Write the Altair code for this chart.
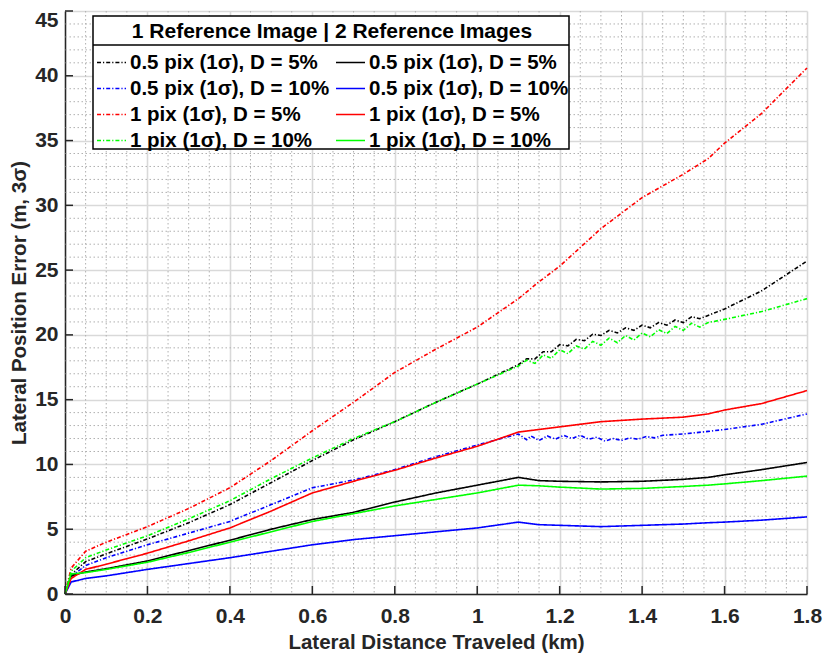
import altair as alt
import pandas as pd
import numpy as np

# ---------------- data ----------------
dist_km = [0, 0.015, 0.05, 0.1, 0.2, 0.3, 0.4, 0.5, 0.6, 0.7, 0.8, 0.9, 1.0,
           1.1, 1.15, 1.2, 1.3, 1.4, 1.5, 1.56, 1.6, 1.69, 1.8]

# 1 reference image (dash-dot) -- these three show a ripple after 1.1 km
one_ref_05pix_d5_x = [0, 0.015, 0.05, 0.1, 0.2, 0.3, 0.4, 0.5, 0.6, 0.7, 0.8, 0.9, 1.0, 1.1,
                      1.12, 1.14, 1.16, 1.18, 1.20, 1.22, 1.24, 1.26, 1.28, 1.30, 1.32, 1.34,
                      1.36, 1.38, 1.40, 1.42, 1.44, 1.46, 1.48, 1.50, 1.52, 1.54, 1.56,
                      1.6, 1.69, 1.8]
one_ref_05pix_d5 = [0, 1.5, 2.5, 3.1, 4.25, 5.5, 6.9, 8.6, 10.3, 11.9, 13.3, 14.8, 16.2, 17.7,
                    18.15, 18.15, 18.7, 18.7, 19.25, 19.15, 19.65, 19.55, 20.05, 19.95, 20.35, 20.15,
                    20.55, 20.35, 20.75, 20.55, 20.95, 20.75, 21.15, 20.95, 21.4, 21.25, 21.5,
                    22.0, 23.4, 25.7]

one_ref_05pix_d10_x = [0, 0.015, 0.05, 0.1, 0.2, 0.3, 0.4, 0.5, 0.6, 0.7, 0.8, 0.9, 1.0, 1.1,
                       1.12, 1.13, 1.15, 1.17, 1.19, 1.21, 1.23, 1.25, 1.27, 1.29, 1.31, 1.33,
                       1.35, 1.37, 1.39, 1.41, 1.43, 1.45, 1.5, 1.56, 1.6, 1.69, 1.8]
one_ref_05pix_d10 = [0, 1.35, 2.2, 2.8, 3.8, 4.7, 5.6, 6.9, 8.2, 8.8, 9.6, 10.6, 11.5, 12.35,
                     11.9, 12.2, 11.85, 12.2, 11.95, 12.25, 12.0, 12.25, 11.95, 12.1, 11.8, 12.0,
                     11.85, 12.05, 11.95, 12.15, 12.05, 12.25, 12.35, 12.55, 12.7, 13.1, 13.9]

one_ref_1pix_d5 = [0, 2.0, 3.3, 4.0, 5.2, 6.6, 8.2, 10.3, 12.6, 14.8, 17.1, 18.9, 20.6,
                   22.8, 24.1, 25.3, 28.2, 30.6, 32.4, 33.6, 34.8, 37.1, 40.6]

one_ref_1pix_d10_x = [0, 0.015, 0.05, 0.1, 0.2, 0.3, 0.4, 0.5, 0.6, 0.7, 0.8, 0.9, 1.0, 1.1,
                      1.12, 1.14, 1.16, 1.18, 1.20, 1.22, 1.24, 1.26, 1.28, 1.30, 1.32, 1.34,
                      1.36, 1.38, 1.40, 1.42, 1.44, 1.46, 1.48, 1.50, 1.52, 1.54, 1.56,
                      1.6, 1.69, 1.8]
one_ref_1pix_d10 = [0, 1.75, 2.8, 3.4, 4.5, 5.8, 7.2, 8.9, 10.5, 12.0, 13.3, 14.8, 16.2, 17.6,
                    18.05, 17.8, 18.45, 18.2, 18.85, 18.55, 19.15, 18.9, 19.5, 19.2, 19.75, 19.4,
                    19.95, 19.6, 20.15, 19.85, 20.4, 20.1, 20.65, 20.35, 20.9, 20.6, 20.95,
                    21.2, 21.8, 22.8]

# 2 reference images (solid)
two_ref_05pix_d5 = [0, 1.4, 1.7, 1.95, 2.55, 3.35, 4.15, 5.0, 5.75, 6.3, 7.1, 7.8, 8.4,
                    9.0, 8.75, 8.7, 8.65, 8.7, 8.85, 9.0, 9.2, 9.6, 10.15]
two_ref_05pix_d10 = [0, 0.93, 1.2, 1.4, 1.9, 2.35, 2.8, 3.3, 3.8, 4.2, 4.5, 4.8, 5.1,
                     5.55, 5.35, 5.3, 5.2, 5.3, 5.4, 5.5, 5.55, 5.7, 5.95]
two_ref_1pix_d5 = [0, 1.2, 1.9, 2.3, 3.15, 4.1, 5.1, 6.4, 7.8, 8.7, 9.55, 10.5, 11.4,
                   12.5, 12.7, 12.9, 13.3, 13.5, 13.65, 13.9, 14.2, 14.7, 15.7]
two_ref_1pix_d10 = [0, 1.55, 1.65, 1.9, 2.45, 3.2, 4.0, 4.8, 5.6, 6.2, 6.8, 7.3, 7.8,
                    8.4, 8.35, 8.25, 8.1, 8.15, 8.3, 8.4, 8.5, 8.75, 9.1]

# legend order (the legend fills column by column)
series_codes = ["d05_5", "d05_10", "d1_5", "d1_10", "s05_5", "s05_10", "s1_5", "s1_10"]
series_labels = ["0.5 pix (1σ), D = 5%", "0.5 pix (1σ), D = 10%",
                 "1 pix (1σ), D = 5%", "1 pix (1σ), D = 10%",
                 "0.5 pix (1σ), D = 5%", "0.5 pix (1σ), D = 10%",
                 "1 pix (1σ), D = 5%", "1 pix (1σ), D = 10%"]
series_x = [one_ref_05pix_d5_x, one_ref_05pix_d10_x, dist_km, one_ref_1pix_d10_x,
            dist_km, dist_km, dist_km, dist_km]
series_values = [one_ref_05pix_d5, one_ref_05pix_d10, one_ref_1pix_d5, one_ref_1pix_d10,
                 two_ref_05pix_d5, two_ref_05pix_d10, two_ref_1pix_d5, two_ref_1pix_d10]
series_colors = ["#000000", "#0000ff", "#ff0000", "#00ff00",
                 "#000000", "#0000ff", "#ff0000", "#00ff00"]
DASH = [4, 2, 1.2, 2]
SOLID = [1, 0]
series_dashes = [DASH, DASH, DASH, DASH, SOLID, SOLID, SOLID, SOLID]

x_ticks = [0, 0.2, 0.4, 0.6, 0.8, 1, 1.2, 1.4, 1.6, 1.8]
y_ticks = [0, 5, 10, 15, 20, 25, 30, 35, 40, 45]
x_minor = [round(v, 2) for v in np.arange(0, 1.8001, 0.05) if round(v, 2) not in x_ticks]
y_minor = [v for v in range(0, 46) if v % 5 != 0]

legend_title = "1 Reference Image | 2 Reference Images"

rows = []
for code, xs, vals in zip(series_codes, series_x, series_values):
    for order, (xv, yv) in enumerate(zip(xs, vals)):
        rows.append({"x": xv, "y": yv, "series": code, "order": order})
df = pd.DataFrame(rows)

# ---------------- layout ----------------
W, H = 742, 583
FONT = "Liberation Sans"
AX = "#262626"

label_expr = ("[" + ",".join("'" + s + "'" for s in series_labels) + "]"
              "[indexof([" + ",".join("'" + c + "'" for c in series_codes) + "], datum.value)]")

xscale = alt.Scale(domain=[0, 1.8], nice=False, zero=False)
yscale = alt.Scale(domain=[0, 45], nice=False, zero=False)
xaxis = alt.Axis(values=x_ticks, format="~g", title="Lateral Distance Traveled (km)",
                 grid=True, gridColor="#d9d9d9", gridWidth=1.6, tickSize=0,
                 domainColor=AX, domainWidth=1.5, labelFont=FONT, labelFontSize=21,
                 labelFontWeight="bold", labelColor="#262626", labelPadding=11,
                 titleFont=FONT, titleFontSize=20.5, titleFontWeight="bold",
                 titleColor="#262626", titlePadding=6, labelFlush=False)
yaxis = alt.Axis(values=y_ticks, format="~g", title="Lateral Position Error (m, 3σ)",
                 grid=True, gridColor="#d9d9d9", gridWidth=1.6, tickSize=0,
                 domainColor=AX, domainWidth=1.5, labelFont=FONT, labelFontSize=21,
                 labelFontWeight="bold", labelColor="#262626", labelPadding=7,
                 labelOffset={"condition": {"test": "datum.value >= 45", "value": 9}, "value": 0},
                 titleFont=FONT, titleFontSize=20.5, titleFontWeight="bold",
                 titleColor="#262626", titlePadding=5, labelFlush=False)

X = lambda f: alt.X(f, type="quantitative", scale=xscale, axis=xaxis)
Y = lambda f: alt.Y(f, type="quantitative", scale=yscale, axis=yaxis)

minor_x = alt.Chart(pd.DataFrame({"x": x_minor})).mark_rule(
    color="#b0b0b0", strokeWidth=1, strokeDash=[1.5, 2.5]).encode(x=X("x"))
minor_y = alt.Chart(pd.DataFrame({"y": y_minor})).mark_rule(
    color="#b0b0b0", strokeWidth=1, strokeDash=[1.5, 2.5]).encode(y=Y("y"))

ticks_x = alt.Chart(pd.DataFrame({"x": x_ticks})).mark_rule(
    color=AX, strokeWidth=1.5).encode(x=X("x"), y=alt.value(H), y2=alt.value(H - 8))
ticks_y = alt.Chart(pd.DataFrame({"y": y_ticks})).mark_rule(
    color=AX, strokeWidth=1.5).encode(y=Y("y"), x=alt.value(0), x2=alt.value(8))

legend = alt.Legend(
    title=legend_title, orient="none", legendX=31, legendY=10, columns=2,
    columnPadding=2, rowPadding=-1, symbolType="stroke", symbolSize=841,
    symbolStrokeWidth=1.6, labelFont=FONT, labelFontSize=20.5, labelFontWeight="bold",
    labelColor="#000000", labelLimit=400, labelOffset=3, labelExpr=label_expr,
    titleFont=FONT, titleFontSize=21, titleFontWeight="bold", titleColor="#000000",
    titleAnchor="middle", titleLimit=700, titlePadding=5, padding=0)

lines = alt.Chart(df).mark_line(strokeWidth=1.6).encode(
    x=X("x"), y=Y("y"),
    color=alt.Color("series:N", scale=alt.Scale(domain=series_codes, range=series_colors),
                    legend=legend, sort=series_codes),
    strokeDash=alt.StrokeDash("series:N", scale=alt.Scale(domain=series_codes, range=series_dashes),
                              legend=legend, sort=series_codes),
    order="order:Q",
)

box = alt.Chart(pd.DataFrame({"k": [0]})).mark_rect(
    fill="white", stroke="black", strokeWidth=1.5).encode(
    x=alt.value(28), x2=alt.value(504), y=alt.value(5), y2=alt.value(138))
sep = alt.Chart(pd.DataFrame({"k": [0]})).mark_rule(
    color="black", strokeWidth=1.5).encode(
    x=alt.value(28), x2=alt.value(504), y=alt.value(34))

chart = alt.layer(minor_x, minor_y, lines, ticks_x, ticks_y, box, sep).properties(
    width=W, height=H,
    autosize=alt.AutoSizeParams(type="none"),
    padding={"left": 57, "top": 3, "right": 16, "bottom": 60},
).configure_view(stroke=None)

chart.save("out.html", embed_options={"renderer": "svg", "actions": False})
